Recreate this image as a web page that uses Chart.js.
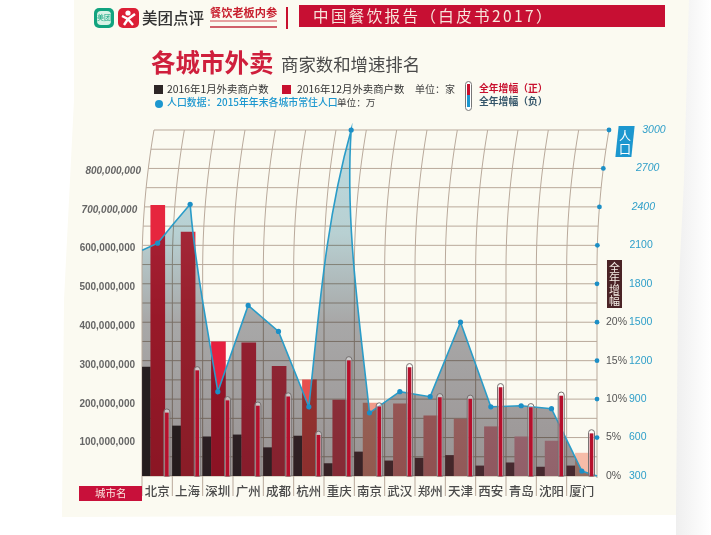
<!DOCTYPE html>
<html lang="zh">
<head>
<meta charset="UTF-8">
<title>各城市外卖 商家数和增速排名</title>
<script src="https://cdn.jsdelivr.net/npm/chart.js"></script>
<style>
  html, body { margin: 0; padding: 0; background: #fff; }
  body { width: 711px; height: 535px; position: relative; overflow: hidden; font-family: "Noto Sans CJK SC", sans-serif; }
  #shade { position: absolute; left: 676px; top: 0; width: 35px; height: 535px; background: linear-gradient(90deg, #efefef, #fff); }
  #paper { position: absolute; inset: 0; background: #fbfaf1;
    clip-path: polygon(74px 0, 689px 0, 684px 180px, 678px 300px, 676px 515px, 62px 517px, 64px 300px, 74px 100px); }
  canvas { position: absolute; left: 0; top: 0; }
  .t { position: absolute; white-space: nowrap; line-height: 1; }
  .box { position: absolute; }
</style>
</head>
<body>
<div id="shade"></div>
<div id="paper"></div>
<canvas id="cityChart" width="711" height="535"></canvas>

<!-- header -->
<div class="box" style="left:94px;top:8px;width:20px;height:20px;border-radius:5px;background:#12a37f"></div>
<div class="box" style="left:97px;top:11px;width:14px;height:14px;border-radius:4px;background:#d9f2e6"></div>
<div class="t" style="left:97px;top:14px;font-size:7px;color:#12a37f">美团</div>
<div class="box" style="left:118px;top:8px;width:21px;height:20px;border-radius:5px;background:#dc1e35"></div>
<svg class="box" style="left:118px;top:8px" width="21" height="20"><circle cx="10" cy="5" r="2.6" fill="#fff"/><path d="M4 8 L10 11 L17 6 M10 11 L6 17 M10 11 L15 17" stroke="#fff" stroke-width="2.4" fill="none"/></svg>
<div class="t" style="left:142px;top:10px;font-size:15.5px;color:#333;font-weight:500">美团点评</div>
<div class="t" style="left:210px;top:7px;font-size:11.2px;color:#c8202f;font-family:'Noto Sans CJK SC';font-weight:700">餐饮老板内参</div>
<div class="box" style="left:210px;top:20px;width:67px;height:2px;background:#e6a0a0"></div>
<div class="box" style="left:210px;top:26px;width:67px;height:2px;background:#d0606a"></div>
<div class="box" style="left:286px;top:7px;width:2px;height:22px;background:#c8102e"></div>
<div class="box" style="left:299px;top:5px;width:366px;height:22px;background:#c70f33"></div>
<div class="t" style="left:313px;top:8px;font-size:15.5px;letter-spacing:2.4px;color:#f7e6dc">中国餐饮报告（白皮书2017）</div>

<!-- title -->
<div class="t" style="left:151px;top:50px;font-size:24.5px;font-weight:700;color:#cf1f3c">各城市外卖</div>
<div class="t" style="left:281px;top:55px;font-size:17.4px;color:#4a4a4a">商家数和增速排名</div>

<!-- legend -->
<div class="box" style="left:154px;top:85px;width:9px;height:9px;background:#2d2626"></div>
<div class="t" style="left:167px;top:84px;font-size:10.4px;color:#333">2016年1月外卖商户数</div>
<div class="box" style="left:282px;top:85px;width:9px;height:9px;background:#c8102e"></div>
<div class="t" style="left:297px;top:84px;font-size:10.4px;color:#333">2016年12月外卖商户数</div>
<div class="t" style="left:415px;top:84px;font-size:10px;color:#444">单位：家</div>
<div class="box" style="left:155px;top:100px;width:8px;height:8px;border-radius:50%;background:#1c97cf"></div>
<div class="t" style="left:167px;top:98px;font-size:9.9px;font-weight:500;color:#1c97cf">人口数据：2015年年末各城市常住人口</div>
<div class="t" style="left:337px;top:98px;font-size:9.6px;color:#444">单位：万</div>
<div class="box" style="left:465px;top:81px;width:5px;height:28px;border:1px solid #777;border-radius:4px;background:#fff"></div>
<div class="box" style="left:467px;top:84px;width:3px;height:11px;background:#c8102e"></div>
<div class="box" style="left:467px;top:95px;width:3px;height:12px;background:#1c97cf"></div>
<div class="t" style="left:479px;top:84px;font-size:9.8px;font-weight:700;color:#c8102e">全年增幅（正）</div>
<div class="t" style="left:479px;top:97px;font-size:9.8px;font-weight:700;color:#35566a">全年增幅（负）</div>

<!-- side tags -->
<div class="box" style="left:617px;top:126px;width:16px;height:31px;background:#1c97cf;transform:skewX(-6deg)"></div>
<div class="t" style="left:619px;top:129px;font-size:12px;line-height:13px;color:#fff;white-space:normal;width:12px">人口</div>
<div class="box" style="left:607px;top:260px;width:15px;height:48px;background:#4a2326"></div>
<div class="t" style="left:609px;top:262px;font-size:11px;line-height:11px;color:#f3ece4;white-space:normal;width:11px">全年增幅</div>

<!-- city axis tag -->
<div class="box" style="left:79px;top:486px;width:63px;height:15px;background:#c8103a"></div>
<div class="t" style="left:95px;top:488px;font-size:10.5px;color:#fbe6e0">城市名</div>

<script>
// values
const cities = ['北京', '上海', '深圳', '广州', '成都', '杭州', '重庆', '南京', '武汉', '郑州', '天津', '西安', '青岛', '沈阳', '厦门'];
const merchantsJan = [295e6, 143e6, 115e6, 120e6, 87e6, 117e6, 46e6, 76e6, 53e6, 60e6, 67e6, 40e6, 48e6, 37e6, 40e6];
const merchantsDec = [712e6, 643e6, 360e6, 357e6, 297e6, 262e6, 210e6, 202e6, 200e6, 169e6, 161e6, 141e6, 115e6, 104e6, 73e6];
const growthPct = [8.2, 13.7, 9.8, 9.1, 10.3, 5.3, 15, 9, 14.1, 10.2, 10, 11.5, 8.9, 10.4, 5.5];
// population has one extra point at each edge of the plot
const populationPos = [-0.5, 0, 1, 2, 3, 4, 5, 6, 7, 8, 9, 10, 11, 12, 13, 14, 14.5];
const population = [2062, 2117, 2420, 958, 1631, 1428, 840, 3000, 793, 958, 919, 1500, 840, 848, 825, 339, 300];

const merchantTicks = [100e6, 200e6, 300e6, 400e6, 500e6, 600e6, 700e6, 800e6];
const populationTicks = [300, 600, 900, 1200, 1500, 1800, 2100, 2400, 2700, 3000];
const growthTicks = [0, 5, 10, 15, 20];

const janColors = ['#3c3032', '#3c3032', '#46343a', '#46343a', '#4e363c', '#4e363c', '#5a3a40', '#5e3c42', '#6a4046', '#6a4046', '#704248', '#744650', '#744650', '#744650', '#744650'];
const decColors = ['#e6263e', '#e23043', '#e6203e', '#e0304a', '#dc3a50', '#e8504e', '#dc4a5c', '#f09a88', '#ee8a88', '#ec8c8c', '#f09a98', '#ec98a4', '#f0a4b4', '#f0aab8', '#f6bca8'];

// the printed grid bends to the right towards the top
function bend(y) {
    return y >= 270 ? 0 : 12 * Math.pow((270 - y) / 140, 2);
}
function bendSlope(y) {
    return y >= 270 ? 0 : -24 * (270 - y) / (140 * 140);
}

const gridPlugin = {
    id: 'bentGrid',
    afterDatasetsUpdate(chart) {
        // the population line follows the bent grid, control points make the spans curve with it
        const meta = chart.getDatasetMeta(1);
        const pts = meta.data;
        const rawX = pts.map(p => p.x);
        pts.forEach(p => { p.x += bend(p.y); });
        pts.forEach((p, i) => {
            p.cp1x = p.cp2x = p.x;
            p.cp1y = p.cp2y = p.y;
        });
        for (let i = 0; i < pts.length - 1; i++) {
            const a = pts[i], b = pts[i + 1];
            const dx = rawX[i + 1] - rawX[i], dy = b.y - a.y;
            a.cp2x = a.x + (dx + bendSlope(a.y) * dy) / 3;
            a.cp2y = a.y + dy / 3;
            b.cp1x = b.x - (dx + bendSlope(b.y) * dy) / 3;
            b.cp1y = b.y - dy / 3;
        }
        meta.dataset._pointsUpdated = true;
    },
    beforeDatasetsDraw(chart) {
        const ctx = chart.ctx;
        const area = chart.chartArea;
        const xs = chart.scales.xLin;
        const ys = chart.scales.yPop;
        ctx.save();
        ctx.strokeStyle = '#b9a99b';
        ctx.lineWidth = 1;
        ys.ticks.forEach(t => {
            const y = ys.getPixelForValue(t.value);
            ctx.beginPath();
            ctx.moveTo(area.left + bend(y), y);
            ctx.lineTo(area.right + bend(y), y);
            ctx.stroke();
        });
        for (let i = 0; i <= cities.length; i++) {
            const x = xs.getPixelForValue(i - 0.5);
            const end = i === cities.length ? area.bottom + 4 : 498;
            ctx.beginPath();
            for (let y = area.top; y <= end; y += 6) {
                ctx.lineTo(x + bend(y), y);
            }
            ctx.stroke();
        }
        ctx.restore();
    },
    afterDatasetDraw(chart, args) {
        // next dataset is the population line, its fill multiplies over the bars
        if (args.index === 2) chart.ctx.globalCompositeOperation = 'multiply';
    },
    beforeDatasetDraw(chart, args) {
        const ctx = chart.ctx;
        if (args.index === 1) ctx.globalCompositeOperation = 'source-over';
        if (args.index === 0) {
            // thermometer glass around the growth bars
            args.meta.data.forEach(el => {
                ctx.save();
                ctx.fillStyle = 'rgba(255,255,255,0.45)';
                ctx.strokeStyle = '#746f6f';
                ctx.lineWidth = 1;
                ctx.beginPath();
                ctx.roundRect(el.x - 3, el.y - 4, 6, el.base - el.y + 4, [3, 3, 0, 0]);
                ctx.fill();
                ctx.stroke();
                ctx.restore();
            });
        }
    },
    afterDatasetsDraw(chart) {
        const ctx = chart.ctx;
        const area = chart.chartArea;
        const {yMerch, yPop, yPct} = chart.scales;
        ctx.save();
        ctx.textBaseline = 'middle';
        ctx.textAlign = 'right';
        merchantTicks.forEach(v => {
            const y = yMerch.getPixelForValue(v);
            ctx.font = (bend(y) > 1.5 ? 'italic ' : '') + 'bold 10px "Liberation Sans"';
            ctx.fillStyle = '#666';
            ctx.fillText(v.toLocaleString('en-US'), 135 + bend(y), y);
        });
        ctx.textAlign = 'left';
        populationTicks.forEach(v => {
            const y = yPop.getPixelForValue(v);
            const b = bend(y);
            ctx.font = (b > 1.5 ? 'italic ' : '') + '10.5px "Liberation Sans"';
            ctx.fillStyle = '#2f9fc9';
            ctx.fillText(String(v), 629 + b * 1.1, y);
            if (v > 300) {
                ctx.fillStyle = '#1c8fc6';
                ctx.beginPath();
                ctx.arc(area.right + b, y, 2.4, 0, Math.PI * 2);
                ctx.fill();
            }
        });
        growthTicks.forEach(v => {
            ctx.font = '10.5px "Liberation Sans"';
            ctx.fillStyle = '#555';
            ctx.fillText(v + '%', 606, yPct.getPixelForValue(v));
        });
        ctx.restore();
    }
};

function areaGradient(c) {
    const area = c.chart.chartArea;
    if (!area) return '#aaa';
    const g = c.chart.ctx.createLinearGradient(0, area.top, 0, area.bottom);
    g.addColorStop(0, '#bcdbe0');
    g.addColorStop(0.3, '#b8d0d2');
    g.addColorStop(0.55, '#a8a8a8');
    g.addColorStop(1, '#9a9494');
    return g;
}

new Chart(document.getElementById('cityChart'), {
    type: 'bar',
    data: {
        labels: cities,
        datasets: [
            {
                label: '全年增幅', yAxisID: 'yPct', xAxisID: 'xLin', grouped: false, barThickness: 3,
                data: growthPct.map((v, i) => ({x: i + 0.32, y: v})),
                backgroundColor: '#b5102c', clip: false
            },
            {
                type: 'line', label: '人口', yAxisID: 'yPop', xAxisID: 'xLin',
                data: population.map((v, i) => ({x: populationPos[i], y: v})),
                borderColor: '#2a9cc8', borderWidth: 1.6, tension: 0.0001,
                backgroundColor: areaGradient, fill: 'start', clip: false,
                pointRadius: population.map((v, i) => (i === 0 || i === population.length - 1) ? 0 : 2.6),
                pointBackgroundColor: '#1c8fc6', pointBorderWidth: 0
            },
            {
                label: '2016年12月外卖商户数', yAxisID: 'yMerch', xAxisID: 'xLin', grouped: false, barThickness: 14,
                data: merchantsDec.map((v, i) => ({x: i + 0.02, y: v})),
                backgroundColor: decColors
            },
            {
                label: '2016年1月外卖商户数', yAxisID: 'yMerch', xAxisID: 'xLin', grouped: false, barThickness: 8.2,
                data: merchantsJan.map((v, i) => ({x: i - 0.36, y: v})),
                backgroundColor: janColors
            }
        ]
    },
    options: {
        responsive: false,
        animation: false,
        events: [],
        layout: { padding: { left: 142, right: 114, top: 130, bottom: 29 } },
        plugins: { legend: { display: false }, tooltip: { enabled: false } },
        scales: {
            x: {
                type: 'category', offset: true, position: 'bottom',
                grid: { display: false }, border: { display: false },
                ticks: { padding: 0, autoSkip: false, maxRotation: 0, color: '#4a4a4a',
                    font: { family: '"Noto Sans CJK SC"', size: 12.5, weight: 500 } },
                afterFit(scale) { scale.height = 30; }
            },
            xLin: { type: 'linear', axis: 'x', display: false, offset: false, min: -0.5, max: 14.5, grid: { display: false } },
            yMerch: { type: 'linear', axis: 'y', display: false, min: 14e6, max: 906e6 },
            yPop: { type: 'linear', axis: 'y', display: false, min: 300, max: 3000, ticks: { stepSize: 150 } },
            yPct: { type: 'linear', axis: 'y', display: false, min: 0, max: 45 }
        }
    },
    plugins: [gridPlugin]
});
</script>
</body>
</html>
